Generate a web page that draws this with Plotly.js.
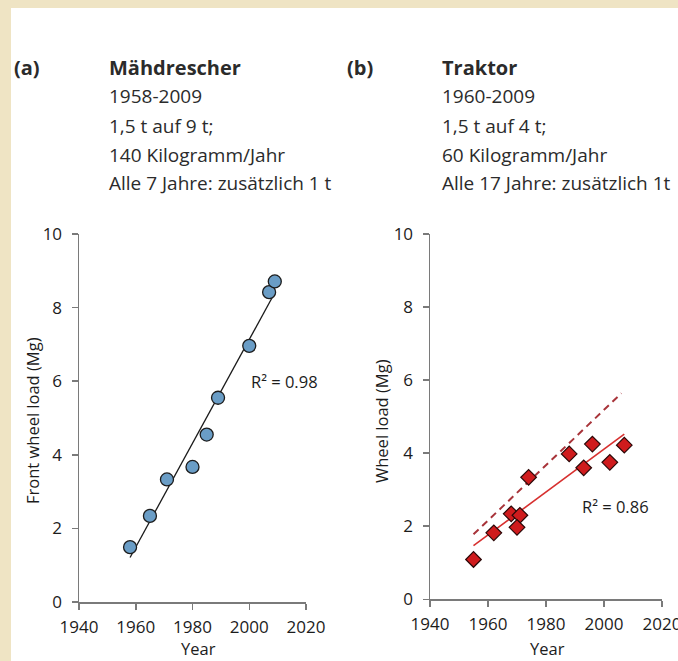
<!DOCTYPE html>
<html>
<head>
<meta charset="utf-8">
<script src="https://cdn.plot.ly/plotly-3.0.1.min.js"></script>
<style>
  html, body { margin: 0; padding: 0; background: #ffffff; }
  #chart { width: 678px; height: 661px; }
</style>
</head>
<body>
<div id="chart"></div>
<script>
// ---------- data ----------
// (a) Mähdrescher (combine harvester) front wheel load
const combineYears = [1958, 1965, 1971, 1980, 1985, 1989, 2000, 2007, 2009];
const combineLoad  = [1.49, 2.34, 3.33, 3.67, 4.55, 5.55, 6.96, 8.42, 8.71];

// (b) Traktor (tractor) wheel load
const tractorYears = [1955, 1962, 1968, 1971, 1970, 1974, 1988, 1993, 1996, 2002, 2007];
const tractorLoad  = [1.09, 1.82, 2.34, 2.30, 1.97, 3.34, 3.98, 3.60, 4.25, 3.75, 4.22];

// dashed upper line in (b)
const dashedYears = [1955, 2006];
const dashedLoad  = [1.78, 5.64];

const r2Labels = ["R² = 0.98", "R² = 0.86"];
const xTitle = "Year";
const yTitles = ["Front wheel load (Mg)", "Wheel load (Mg)"];

const headerTags = ["(a)", "(b)"];
const headerA = ["Mähdrescher", "1958-2009", "1,5 t auf 9 t;", "140 Kilogramm/Jahr", "Alle 7 Jahre: zusätzlich 1 t"];
const headerB = ["Traktor", "1960-2009", "1,5 t auf 4 t;", "60 Kilogramm/Jahr", "Alle 17 Jahre: zusätzlich 1t"];

const xTicks = [1940, 1960, 1980, 2000, 2020];
const yTicks = [0, 2, 4, 6, 8, 10];

// ---------- helpers ----------
function linfit(xs, ys) {
  const n = xs.length;
  const mx = xs.reduce((a, b) => a + b, 0) / n;
  const my = ys.reduce((a, b) => a + b, 0) / n;
  let sxy = 0, sxx = 0;
  for (let i = 0; i < n; i++) { sxy += (xs[i] - mx) * (ys[i] - my); sxx += (xs[i] - mx) ** 2; }
  const b = sxy / sxx, a = my - b * mx;
  const x0 = Math.min(...xs), x1 = Math.max(...xs);
  return { x: [x0, x1], y: [a + b * x0, a + b * x1] };
}

const W = 678, H = 661;
const px = v => v / W;
const py = v => 1 - v / H;

const fitA = linfit(combineYears, combineLoad);
const fitB = linfit(tractorYears, tractorLoad);

const traces = [
  { x: fitA.x, y: fitA.y, type: 'scatter', mode: 'lines', xaxis: 'x', yaxis: 'y',
    line: { color: '#1a1a1a', width: 1.3 }, hoverinfo: 'skip', showlegend: false },
  { x: combineYears, y: combineLoad, type: 'scatter', mode: 'markers', xaxis: 'x', yaxis: 'y',
    marker: { symbol: 'circle', size: 13, color: '#6a9dc6', line: { color: '#1c1c1c', width: 1.3 } },
    showlegend: false },
  { x: dashedYears, y: dashedLoad, type: 'scatter', mode: 'lines', xaxis: 'x2', yaxis: 'y2',
    line: { color: '#a8343a', width: 2, dash: '7px,5px' }, hoverinfo: 'skip', showlegend: false },
  { x: fitB.x, y: fitB.y, type: 'scatter', mode: 'lines', xaxis: 'x2', yaxis: 'y2',
    line: { color: '#d7302f', width: 1.6 }, hoverinfo: 'skip', showlegend: false },
  { x: tractorYears, y: tractorLoad, type: 'scatter', mode: 'markers', xaxis: 'x2', yaxis: 'y2',
    marker: { symbol: 'diamond', size: 12, color: '#cf1b1d', line: { color: '#2a0808', width: 1.2 } },
    showlegend: false }
];

const tickFont = { family: 'Open Sans, sans-serif', size: 17, color: '#1c1c1c' };
const titleFont = { family: 'Open Sans, sans-serif', size: 16.5, color: '#1c1c1c' };

function xAxis(domain, anchor) {
  return {
    domain: domain, anchor: anchor, range: [1940, 2020], tickvals: xTicks,
    ticks: 'outside', ticklen: 6, tickwidth: 1.5, tickcolor: '#7a7a7a',
    showline: true, linecolor: '#7a7a7a', linewidth: 1.5,
    showgrid: false, zeroline: false, tickfont: tickFont, automargin: false,
    ticklabelstandoff: 3, ticklabeloverflow: 'allow'
  };
}
function yAxis(domain, anchor) {
  return {
    domain: domain, anchor: anchor, range: [0, 10], tickvals: yTicks,
    ticks: 'outside', ticklen: 6, tickwidth: 1.5, tickcolor: '#7a7a7a',
    showline: true, linecolor: '#7a7a7a', linewidth: 1.5,
    showgrid: false, zeroline: false, tickfont: tickFont, automargin: false,
    ticklabelstandoff: 6, ticklabeloverflow: 'allow'
  };
}

const headFont = { family: 'Open Sans, sans-serif', size: 19, color: '#2b2b2b' };
const headBold = { family: 'Open Sans, sans-serif', size: 20, color: '#2b2b2b' };
const lineY = [67, 96.5, 126, 154.5, 183];
const annotations = [];
headerTags.forEach((t, i) => {
  annotations.push({ xref: 'paper', yref: 'paper', x: px(i === 0 ? 12 : 345), y: py(lineY[0]),
    xanchor: 'left', yanchor: 'middle', text: '<b>' + t + '</b>', showarrow: false, font: headBold });
});
[headerA, headerB].forEach((lines, k) => {
  lines.forEach((t, i) => {
    annotations.push({ xref: 'paper', yref: 'paper', x: px(k === 0 ? 107 : 440), y: py(lineY[i]),
      xanchor: 'left', yanchor: 'middle', text: i === 0 ? '<b>' + t + '</b>' : t,
      showarrow: false, font: i === 0 ? headBold : headFont });
  });
});
annotations.push({ xref: 'x', yref: 'y', x: 2012.4, y: 6.0, text: r2Labels[0], showarrow: false,
  xanchor: 'center', yanchor: 'middle', font: titleFont });
annotations.push({ xref: 'x2', yref: 'y2', x: 2003.8, y: 2.53, text: r2Labels[1], showarrow: false,
  xanchor: 'center', yanchor: 'middle', font: titleFont });
// axis titles
annotations.push({ xref: 'paper', yref: 'paper', x: px(198), y: 0, text: xTitle, showarrow: false,
  xanchor: 'center', yanchor: 'bottom', borderpad: 0, font: titleFont });
annotations.push({ xref: 'paper', yref: 'paper', x: px(547), y: 0, text: xTitle, showarrow: false,
  xanchor: 'center', yanchor: 'bottom', borderpad: 0, font: titleFont });
annotations.push({ xref: 'paper', yref: 'paper', x: px(32), y: py(421), text: yTitles[0], showarrow: false,
  textangle: -90, xanchor: 'center', yanchor: 'middle', font: titleFont });
annotations.push({ xref: 'paper', yref: 'paper', x: px(381), y: py(421), text: yTitles[1], showarrow: false,
  textangle: -90, xanchor: 'center', yanchor: 'middle', font: titleFont });

const layout = {
  width: W, height: H,
  margin: { l: 0, r: 0, t: 0, b: 0, pad: 0 },
  paper_bgcolor: '#ffffff', plot_bgcolor: 'rgba(0,0,0,0)',
  showlegend: false,
  xaxis:  xAxis([px(79), px(306)], 'y'),
  yaxis:  yAxis([py(602), py(234)], 'x'),
  xaxis2: xAxis([px(430), px(662)], 'y2'),
  yaxis2: yAxis([py(599.3), py(234)], 'x2'),
  shapes: [
    { type: 'rect', xref: 'paper', yref: 'paper', x0: 0, x1: 1, y0: py(8), y1: 1,
      fillcolor: '#efe4c4', line: { width: 0 }, layer: 'below' },
    { type: 'rect', xref: 'paper', yref: 'paper', x0: 0, x1: px(11), y0: 0, y1: 1,
      fillcolor: '#efe4c4', line: { width: 0 }, layer: 'below' }
  ],
  annotations: annotations
};

Plotly.newPlot('chart', traces, layout, { displayModeBar: false, staticPlot: true });
</script>
</body>
</html>
